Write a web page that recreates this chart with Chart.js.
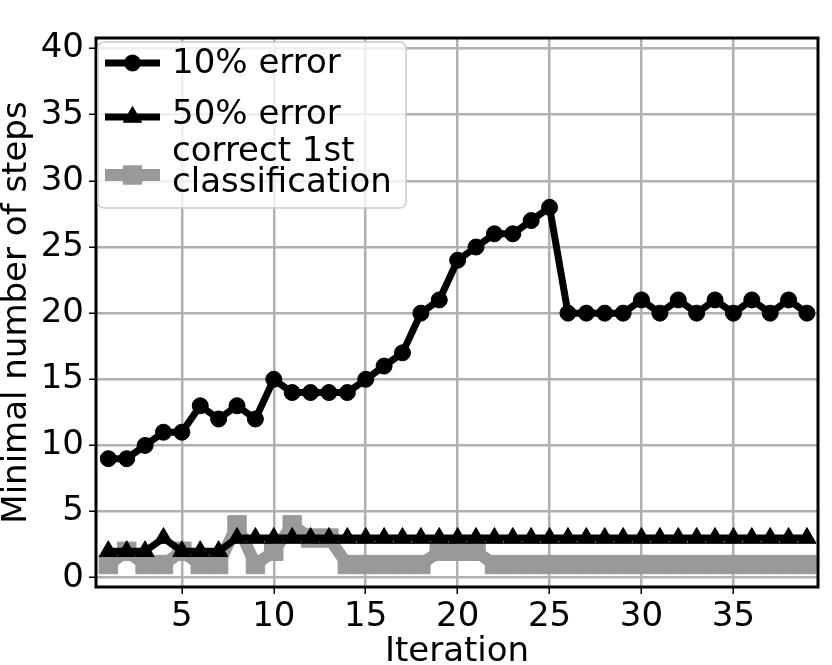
<!DOCTYPE html>
<html>
<head>
<meta charset="utf-8">
<script src="https://cdn.jsdelivr.net/npm/chart.js@4.4.1/dist/chart.umd.min.js"></script>
<style>
  html, body { margin: 0; padding: 0; background: #fff; }
  #wrap { width: 832px; height: 665px; }
</style>
</head>
<body>
<div id="wrap"><canvas id="chart"></canvas></div>
<script>
// data
const iterations = [1, 2, 3, 4, 5, 6, 7, 8, 9, 10, 11, 12, 13, 14, 15, 16, 17, 18, 19, 20,
  21, 22, 23, 24, 25, 26, 27, 28, 29, 30, 31, 32, 33, 34, 35, 36, 37, 38, 39];
const err10 = [9, 9, 10, 11, 11, 13, 12, 13, 12, 15, 14, 14, 14, 14, 15, 16, 17, 20, 21, 24,
  25, 26, 26, 27, 28, 20, 20, 20, 20, 21, 20, 21, 20, 21, 20, 21, 20, 21, 20];
const err50 = [2, 2, 2, 3, 2, 2, 2, 3, 3, 3, 3, 3, 3, 3, 3, 3, 3, 3, 3, 3,
  3, 3, 3, 3, 3, 3, 3, 3, 3, 3, 3, 3, 3, 3, 3, 3, 3, 3, 3];
const correct1st = [1, 2, 1, 1, 2, 1, 1, 4, 1, 2, 4, 3, 3, 1, 1, 1, 1, 1, 2, 2,
  2, 1, 1, 1, 1, 1, 1, 1, 1, 1, 1, 1, 1, 1, 1, 1, 1, 1, 1];
const xTicks = [5, 10, 15, 20, 25, 30, 35];
const yTicks = [0, 5, 10, 15, 20, 25, 30, 35, 40];

const FONT = "'DejaVu Sans', sans-serif";
const FSIZE = 34;
const GRID = "#b0b0b0";
const GREY = "#999999";

const pts = (ys) => iterations.map((x, i) => ({ x: x, y: ys[i] }));

// matplotlib-like frame around the axes
const framePlugin = {
  id: "frame",
  afterDraw(chart) {
    const { ctx, chartArea: a } = chart;
    ctx.save();
    ctx.strokeStyle = "#000";
    ctx.lineWidth = 3;
    ctx.strokeRect(a.left, a.top, a.right - a.left, a.bottom - a.top);
    ctx.restore();
  }
};

// legend box drawn by hand (multi-line label)
const legendPlugin = {
  id: "mplLegend",
  afterDraw(chart) {
    const ctx = chart.ctx;
    const x0 = 98, y0 = 42, w = 308, h = 166, r = 6;
    ctx.save();
    ctx.beginPath();
    ctx.roundRect(x0, y0, w, h, r);
    ctx.fillStyle = "rgba(255,255,255,0.8)";
    ctx.fill();
    ctx.strokeStyle = "#cccccc";
    ctx.lineWidth = 1.5;
    ctx.stroke();

    const rows = [
      { ds: 0, y: 63, text: ["10% error"], textY: [64] },
      { ds: 1, y: 117, text: ["50% error"], textY: [115] },
      { ds: 2, y: 175, text: ["correct 1st", "classification"], textY: [152, 183] }
    ];
    rows.forEach((row) => {
      const ds = chart.data.datasets[row.ds];
      ctx.strokeStyle = ds.borderColor;
      ctx.fillStyle = ds.backgroundColor;
      ctx.lineWidth = ds.borderWidth;
      ctx.lineCap = "butt";
      ctx.beginPath();
      ctx.moveTo(105, row.y);
      ctx.lineTo(160, row.y);
      ctx.stroke();
      ctx.lineWidth = 1;
      Chart.helpers.drawPoint(ctx, {
        pointStyle: ds.pointStyle, radius: ds.pointRadius, rotation: 0, borderWidth: 1
      }, 132.5, row.y);
      ctx.fillStyle = "#000";
      ctx.font = FSIZE + "px " + FONT;
      ctx.textBaseline = "middle";
      ctx.textAlign = "left";
      row.text.forEach((t, i) => ctx.fillText(t, 172, row.textY[i]));
    });
    ctx.restore();
  }
};

new Chart(document.getElementById("chart"), {
  type: "line",
  data: {
    datasets: [
      {
        label: "10% error",
        data: pts(err10),
        borderColor: "#000",
        backgroundColor: "#000",
        borderWidth: 7,
        borderJoinStyle: "round",
        pointStyle: "circle",
        pointRadius: 8,
        pointBorderWidth: 1,
        order: 1
      },
      {
        label: "50% error",
        data: pts(err50),
        borderColor: "#000",
        backgroundColor: "#000",
        borderWidth: 7,
        borderJoinStyle: "round",
        pointStyle: "triangle",
        pointRadius: 10.5,
        pointBorderWidth: 1,
        order: 2
      },
      {
        label: "correct 1st classification",
        data: pts(correct1st),
        borderColor: GREY,
        backgroundColor: GREY,
        borderWidth: 12,
        borderJoinStyle: "round",
        pointStyle: "rect",
        pointRadius: 13,
        pointBorderWidth: 1,
        order: 3
      }
    ]
  },
  options: {
    responsive: true,
    maintainAspectRatio: false,
    animation: false,
    layout: { padding: { top: 38, right: 4, left: 0, bottom: 0 } },
    plugins: {
      legend: { display: false },
      tooltip: { enabled: false }
    },
    scales: {
      x: {
        type: "linear",
        min: 0.33,
        max: 39.6,
        afterBuildTicks: (s) => { s.ticks = xTicks.map((v) => ({ value: v })); },
        afterFit: (s) => { s.height = 78; },
        border: { display: false },
        grid: { color: GRID, lineWidth: 2.5, tickColor: "#000", tickLength: 7, tickWidth: 1.5 },
        ticks: { color: "#000", font: { size: FSIZE, family: FONT }, padding: 3, maxRotation: 0, autoSkip: false },
        title: {
          display: true,
          text: "Iteration",
          color: "#000",
          font: { size: FSIZE, family: FONT },
          padding: { top: 0, bottom: -8 }
        }
      },
      y: {
        min: -0.7,
        max: 40.8,
        afterBuildTicks: (s) => { s.ticks = yTicks.map((v) => ({ value: v })); },
        afterFit: (s) => { s.width = 96; },
        border: { display: false },
        grid: { color: GRID, lineWidth: 2.5, tickColor: "#000", tickLength: 7, tickWidth: 1.5 },
        ticks: { color: "#000", font: { size: FSIZE, family: FONT }, padding: 5, autoSkip: false },
        title: {
          display: true,
          text: "Minimal number of steps",
          color: "#000",
          font: { size: FSIZE, family: FONT },
          padding: { top: -3, bottom: 0 }
        }
      }
    }
  },
  plugins: [framePlugin, legendPlugin]
});
</script>
</body>
</html>
